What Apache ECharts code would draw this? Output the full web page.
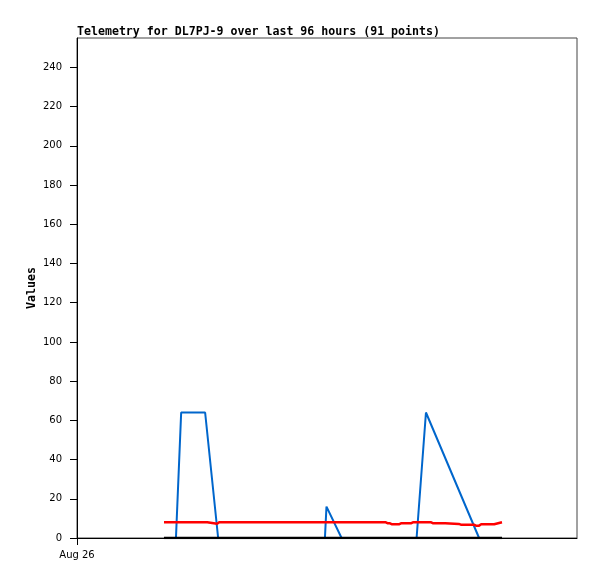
<!DOCTYPE html>
<html>
<head>
<meta charset="utf-8">
<script src="https://cdn.jsdelivr.net/npm/echarts@6/dist/echarts.min.js"></script>
<style>
html,body{margin:0;padding:0;background:#fff;}
#chart{width:597px;height:579px;}
</style>
</head>
<body>
<div id="chart"></div>
<script>
// x values are hours since Aug 26 00:00
const titleText = 'Telemetry for DL7PJ-9 over last 96 hours (91 points)';
const yAxisName = 'Values';
const xTickLabels = { 0: 'Aug 26' };
const yTicks = [0, 20, 40, 60, 80, 100, 120, 140, 160, 180, 200, 220, 240];

const blueX = [16.7, 19.0, 20.0, 24.6, 27.1, 47.6, 47.9, 50.8, 65.2, 67.0, 77.2, 81.6];
const blueY = [0, 0, 64, 64, 0, 0, 16, 0, 0, 64, 0, 0];

const redX = [16.7, 25.0, 25.3, 26.9, 27.3, 59.3, 59.7, 60.1, 60.5, 61.8, 62.2, 64.1, 64.5, 68.0, 68.4, 70.7, 71.0, 73.3, 73.7, 76.2, 76.6, 77.2, 77.6, 80.1, 80.4, 81.6];
const redY = [8, 8, 7.3, 7.3, 8, 8, 7.5, 7.5, 7, 7, 7.5, 7.5, 8, 8, 7.5, 7.5, 7.2, 7.2, 6.8, 6.8, 6.3, 6.3, 7, 7, 8, 8];

const blackX = [16.7, 81.6];
const blackY = [0, 0];

const zip = (xs, ys) => xs.map((x, i) => [x, ys[i]]);

const chart = echarts.init(document.getElementById('chart'), null, { renderer: 'canvas' });
chart.setOption({
  animation: false,
  backgroundColor: '#fff',
  title: {
    text: titleText,
    left: 77,
    top: 26,
    padding: 0,
    textStyle: { fontFamily: 'DejaVu Sans Mono', fontWeight: 'bold', fontSize: 11.6, color: '#000' }
  },
  grid: {
    left: 77, top: 38, width: 500, height: 500,
    show: true, borderColor: '#444', borderWidth: 1, backgroundColor: 'transparent'
  },
  xAxis: {
    type: 'value',
    min: 0, max: 96,
    splitLine: { show: false },
    axisLine: { show: true, onZero: false, lineStyle: { color: '#000', width: 1 } },
    axisTick: { show: true, length: 7, customValues: [0], lineStyle: { color: '#000' } },
    axisLabel: {
      customValues: [0],
      formatter: v => xTickLabels[v] || '',
      margin: 12,
      fontFamily: 'DejaVu Sans', fontSize: 10, color: '#000'
    }
  },
  yAxis: {
    type: 'value',
    min: 0, max: 255,
    name: yAxisName,
    nameLocation: 'middle',
    nameGap: 39,
    nameMoveOverlap: false,
    nameTextStyle: { fontFamily: 'DejaVu Sans Mono', fontWeight: 'bold', fontSize: 11.6, color: '#000' },
    splitLine: { show: false },
    axisLine: { show: true, lineStyle: { color: '#000', width: 1 } },
    axisTick: { show: true, length: 7, customValues: yTicks, lineStyle: { color: '#000' } },
    axisLabel: {
      customValues: yTicks,
      margin: 15,
      padding: [4, 0, 0, 0],
      fontFamily: 'DejaVu Sans', fontSize: 10, color: '#000'
    }
  },
  series: [
    { type: 'line', data: zip(blueX, blueY), showSymbol: false, symbol: 'none',
      lineStyle: { color: '#0066cc', width: 2 }, z: 2 },
    { type: 'line', data: zip(redX, redY), showSymbol: false, symbol: 'none',
      lineStyle: { color: '#ff0000', width: 2.5 }, z: 3 },
    { type: 'line', data: zip(blackX, blackY), showSymbol: false, symbol: 'none',
      lineStyle: { color: '#000000', width: 2.5 }, z: 4 }
  ]
});
</script>
</body>
</html>
